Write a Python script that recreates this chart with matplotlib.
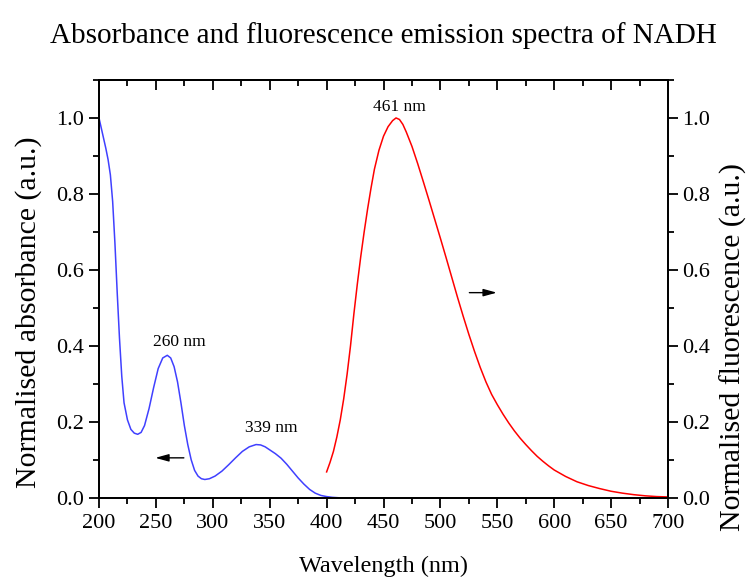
import matplotlib
matplotlib.use("Agg")
import matplotlib.pyplot as plt
from matplotlib.ticker import MultipleLocator

plt.rcParams['font.family'] = ['Liberation Serif', 'DejaVu Serif']

# NADH absorbance spectrum (normalised)
abs_wl = [200, 203, 206, 208, 210, 212, 214, 216, 218, 220, 222, 225, 228, 231,
          234, 237, 240, 244, 248, 252, 256, 260, 263, 266, 269, 272, 275, 278,
          281, 284, 287, 290, 293, 297, 302, 308, 314, 320, 326, 332, 338, 342,
          346, 350, 355, 360, 365, 370, 375, 380, 385, 390, 395, 400, 405, 410]
abs_val = [1.0, 0.96, 0.92, 0.89, 0.85, 0.78, 0.67, 0.54, 0.42, 0.32, 0.25, 0.205,
           0.18, 0.17, 0.167, 0.172, 0.19, 0.235, 0.29, 0.34, 0.368, 0.375, 0.368,
           0.345, 0.305, 0.25, 0.19, 0.14, 0.10, 0.072, 0.057, 0.05, 0.048, 0.05,
           0.057, 0.07, 0.087, 0.105, 0.122, 0.134, 0.14, 0.139, 0.134, 0.126,
           0.116, 0.104, 0.088, 0.07, 0.052, 0.036, 0.022, 0.012, 0.006, 0.003,
           0.001, 0.0]

# NADH fluorescence emission spectrum (normalised)
fl_wl = [400, 403, 406, 409, 412, 415, 418, 421, 424, 427, 430, 433, 436, 439,
         442, 446, 450, 454, 458, 461, 464, 467, 470, 475, 480, 485, 490, 495,
         500, 505, 510, 515, 520, 525, 530, 535, 540, 545, 550, 555, 560, 565,
         570, 575, 580, 585, 590, 595, 600, 610, 620, 630, 640, 650, 660, 670,
         680, 690, 700]
fl_val = [0.068, 0.093, 0.122, 0.16, 0.205, 0.26, 0.325, 0.40, 0.485, 0.563, 0.635,
          0.70, 0.76, 0.815, 0.865, 0.915, 0.952, 0.977, 0.993, 1.0, 0.996, 0.983,
          0.963, 0.925, 0.88, 0.832, 0.783, 0.733, 0.683, 0.632, 0.58, 0.528, 0.478,
          0.43, 0.385, 0.343, 0.305, 0.272, 0.245, 0.22, 0.197, 0.176, 0.157, 0.14,
          0.124, 0.109, 0.096, 0.084, 0.073, 0.056, 0.042, 0.032, 0.024, 0.017,
          0.012, 0.008, 0.005, 0.003, 0.002]

peak_labels = ["260 nm", "339 nm", "461 nm"]

fig = plt.figure(figsize=(7.5, 5.77), dpi=100)
ax = fig.add_axes([0.132, 0.1374, 0.7587, 0.724])
ax2 = ax.twinx()

ax.plot(abs_wl, abs_val, color='#4040ff', lw=1.1)
ax2.plot(fl_wl, fl_val, color='#ff0000', lw=1.1)

ax.set_xlim(200, 700)
ax.set_ylim(0, 1.1)
ax2.set_ylim(0, 1.1)

for a in (ax, ax2):
    for s in a.spines.values():
        s.set_linewidth(1.3)

ax.xaxis.set_major_locator(MultipleLocator(50))
ax.xaxis.set_minor_locator(MultipleLocator(25))
ax.yaxis.set_major_locator(MultipleLocator(0.2))
ax.yaxis.set_minor_locator(MultipleLocator(0.1))
ax2.yaxis.set_major_locator(MultipleLocator(0.2))
ax2.yaxis.set_minor_locator(MultipleLocator(0.1))

ax.tick_params(which='major', direction='out', length=7, width=1.3, labelsize=16)
ax.tick_params(which='minor', direction='out', length=4, width=1.3)
ax.tick_params(axis='x', which='major', pad=5)
ax2.tick_params(which='major', direction='out', length=7, width=1.3, labelsize=16)
ax2.tick_params(which='minor', direction='out', length=4, width=1.3)
ax.yaxis.set_major_formatter(plt.FuncFormatter(lambda v, p: f"{v:.1f}"))
ax2.yaxis.set_major_formatter(plt.FuncFormatter(lambda v, p: f"{v:.1f}"))

# inward ticks along the top edge
top = ax.secondary_xaxis('top')
top.xaxis.set_major_locator(MultipleLocator(50))
top.xaxis.set_minor_locator(MultipleLocator(25))
top.tick_params(which='major', direction='in', length=7, width=1.3, labeltop=False)
top.tick_params(which='minor', direction='in', length=4, width=1.3)
top.spines['top'].set_linewidth(1.3)

ax.set_xlabel("Wavelength (nm)", fontsize=17.5, labelpad=16)
ax.set_ylabel("Normalised absorbance (a.u.)", fontsize=21.5)
ax2.set_ylabel("Normalised fluorescence (a.u.)", fontsize=21.5)
ax.yaxis.set_label_coords(-0.1, 0.445)
ax2.yaxis.set_label_coords(1.091, 0.36)

fig.suptitle("Absorbance and fluorescence emission spectra of NADH",
             fontsize=21, x=0.511, y=0.962)

ax.text(271, 0.41, peak_labels[0], fontsize=12.5, ha='center', va='center')
ax.text(351, 0.184, peak_labels[1], fontsize=12.5, ha='center', va='center')
ax.text(464, 1.03, peak_labels[2], fontsize=12.5, ha='center', va='center')

arrow = dict(arrowstyle='-|>,head_length=0.8,head_width=0.22', color='black', lw=1.0)
ax.annotate("", xy=(247, 0.105), xytext=(277, 0.105), arrowprops=arrow)
ax2.annotate("", xy=(552, 0.54), xytext=(523, 0.54), arrowprops=arrow)

fig.savefig("out.png", dpi=100)
